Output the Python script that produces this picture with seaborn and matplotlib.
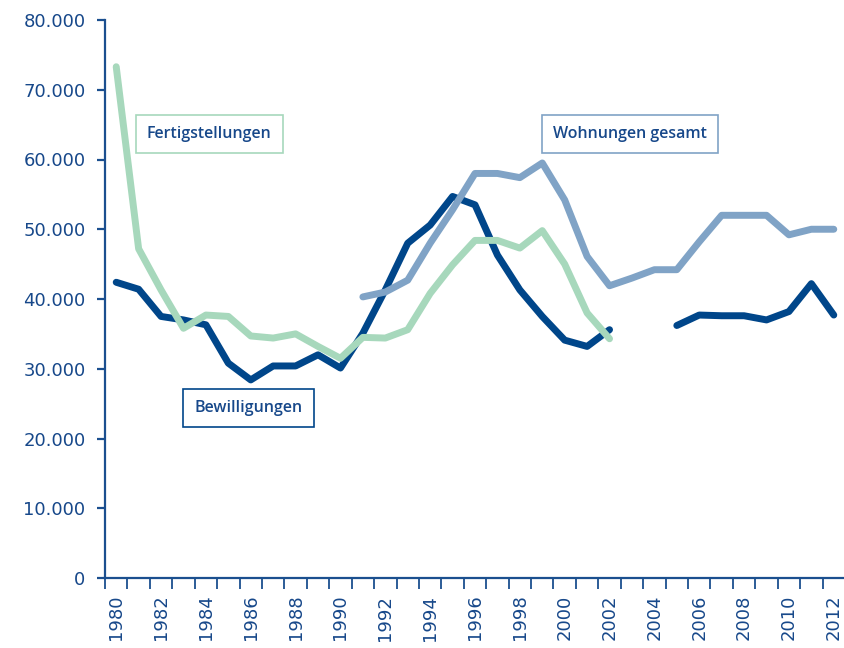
import numpy as np
import pandas as pd
import matplotlib
matplotlib.use('Agg')
import matplotlib.pyplot as plt
import seaborn as sns

# Jahre und Werte
years = list(range(1980, 2013))

bewilligungen = [42400, 41400, 37500, 37000, 36300, 30800, 28400, 30400, 30400, 32000,
                 30100, 35100, 41300, 48000, 50600, 54700, 53500, 46300, 41300, 37500,
                 34100, 33200, 35600, None, None, 36200, 37700, 37600, 37600, 37000,
                 38200, 42200, 37700]

fertigstellungen = [73300, 47200, 41300, 35800, 37700, 37500, 34700, 34400, 35000, 33200,
                    31500, 34500, 34400, 35600, 40800, 44900, 48400, 48400, 47300, 49800,
                    45000, 38000, 34300]

gesamt_years = list(range(1991, 2013))
wohnungen_gesamt = [40300, 41000, 42700, 48000, 52800, 58000, 58000, 57400, 59500, 54200,
                    46100, 41900, 43000, 44200, 44200, 48200, 52000, 52000, 52000, 49200,
                    50000, 50000]

c_dark = '#00468a'
c_light = '#80a3c6'
c_green = '#a7d8bc'
c_axis = '#1b4f8f'
c_text = '#17488a'

# Long-Format, Luecken als eigene Segmente
rows = []
seg = 0
for y, v in zip(years, bewilligungen):
    if v is None:
        seg += 1
        continue
    rows.append(('Bewilligungen', seg, y, v))
for y, v in zip(gesamt_years, wohnungen_gesamt):
    rows.append(('Wohnungen gesamt', 0, y, v))
for y, v in zip(years, fertigstellungen):
    rows.append(('Fertigstellungen', 0, y, v))
df = pd.DataFrame(rows, columns=['reihe', 'segment', 'jahr', 'wert'])

sns.set_style('white')
plt.rcParams['font.family'] = ['DejaVu Sans']

fig = plt.figure(figsize=(8.45, 6.48), dpi=100)
ax = fig.add_axes([105 / 845, 1 - 578 / 648, 1 - 105 / 845, (578 - 20) / 648])

palette = {'Bewilligungen': c_dark, 'Wohnungen gesamt': c_light, 'Fertigstellungen': c_green}
sns.lineplot(data=df, x='jahr', y='wert', hue='reihe', units='segment', estimator=None,
             palette=palette, hue_order=['Bewilligungen', 'Wohnungen gesamt', 'Fertigstellungen'],
             linewidth=5, legend=False, ax=ax, sort=True)
for line in ax.get_lines():
    line.set_solid_capstyle('round')
    line.set_solid_joinstyle('round')

ax.set_xlim(1979.5, 2012.5)
ax.set_ylim(0, 80000)

# Achsen
for s in ['top', 'right']:
    ax.spines[s].set_visible(False)
for s in ['left', 'bottom']:
    ax.spines[s].set_color(c_axis)
    ax.spines[s].set_linewidth(1.6)

ax.set_yticks(range(0, 80001, 10000))
ax.set_yticklabels(['0' if v == 0 else f'{v // 1000}.000' for v in range(0, 80001, 10000)])
ax.tick_params(axis='y', which='major', left=True, direction='out', length=6, width=1.6,
               color=c_axis, labelcolor=c_text, labelsize=13, pad=8)

ax.set_xticks(np.arange(1979.5, 2013, 1))
ax.set_xticklabels([])
ax.set_xticks(range(1980, 2013, 2), minor=True)
ax.set_xticklabels([str(y) for y in range(1980, 2013, 2)], minor=True, rotation=90)
ax.tick_params(axis='x', which='major', bottom=True, direction='out', length=8, width=1.3,
               color=c_axis)
ax.tick_params(axis='x', which='minor', bottom=True, length=0, labelcolor=c_text,
               labelsize=13, pad=12)
ax.set_xlabel('')
ax.set_ylabel('')
ax.grid(False)

# Beschriftungen
label_font = dict(family=['Open Sans', 'DejaVu Sans'], fontsize=11.5, fontweight='semibold',
                  color=c_text, ha='center', va='center')
ax.text(1984.15, 63650, 'Fertigstellungen', **label_font,
        bbox=dict(boxstyle='square,pad=0.7', fc='white', ec=c_green, lw=1.2))
ax.text(2002.9, 63650, 'Wohnungen gesamt', **label_font,
        bbox=dict(boxstyle='square,pad=0.7', fc='white', ec=c_light, lw=1.2))
ax.text(1985.9, 24370, 'Bewilligungen', **label_font,
        bbox=dict(boxstyle='square,pad=0.7', fc='white', ec=c_dark, lw=1.2))

fig.savefig('out.png', dpi=100)
